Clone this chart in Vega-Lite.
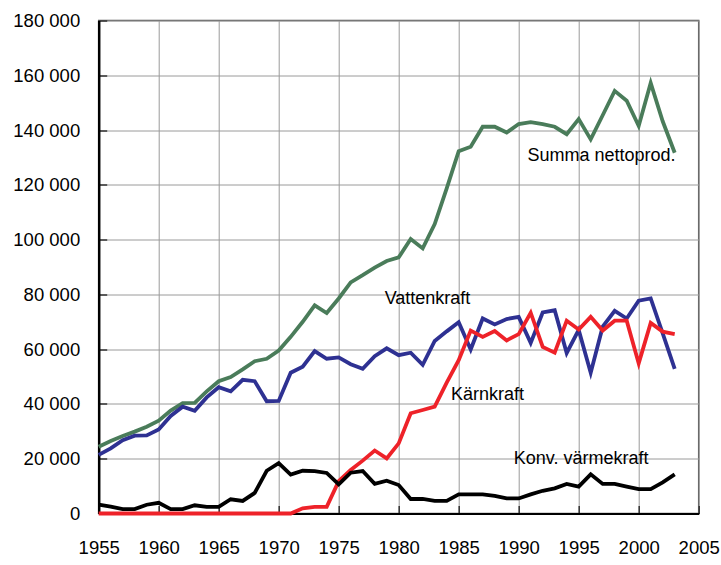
{
  "$schema": "https://vega.github.io/schema/vega-lite/v6.json",
  "width": 600,
  "height": 493,
  "autosize": "none",
  "padding": {"left": 98.7, "top": 20.5, "right": 22.3, "bottom": 51.5},
  "background": "white",
  "config": {
    "view": {"stroke": "#555555", "strokeWidth": 1.5},
    "font": "Liberation Sans, Arial, sans-serif"
  },
  "datasets": {
    "series": [
      {"year": 1955, "series": "Summa nettoprod.", "value": 24400},
      {"year": 1956, "series": "Summa nettoprod.", "value": 26500},
      {"year": 1957, "series": "Summa nettoprod.", "value": 28300},
      {"year": 1958, "series": "Summa nettoprod.", "value": 29900},
      {"year": 1959, "series": "Summa nettoprod.", "value": 31700},
      {"year": 1960, "series": "Summa nettoprod.", "value": 33900},
      {"year": 1961, "series": "Summa nettoprod.", "value": 37600},
      {"year": 1962, "series": "Summa nettoprod.", "value": 40300},
      {"year": 1963, "series": "Summa nettoprod.", "value": 40400},
      {"year": 1964, "series": "Summa nettoprod.", "value": 44600},
      {"year": 1965, "series": "Summa nettoprod.", "value": 48300},
      {"year": 1966, "series": "Summa nettoprod.", "value": 49800},
      {"year": 1967, "series": "Summa nettoprod.", "value": 52600},
      {"year": 1968, "series": "Summa nettoprod.", "value": 55600},
      {"year": 1969, "series": "Summa nettoprod.", "value": 56500},
      {"year": 1970, "series": "Summa nettoprod.", "value": 59500},
      {"year": 1971, "series": "Summa nettoprod.", "value": 64500},
      {"year": 1972, "series": "Summa nettoprod.", "value": 70000},
      {"year": 1973, "series": "Summa nettoprod.", "value": 76000},
      {"year": 1974, "series": "Summa nettoprod.", "value": 73200},
      {"year": 1975, "series": "Summa nettoprod.", "value": 78500},
      {"year": 1976, "series": "Summa nettoprod.", "value": 84400},
      {"year": 1977, "series": "Summa nettoprod.", "value": 87000},
      {"year": 1978, "series": "Summa nettoprod.", "value": 89800},
      {"year": 1979, "series": "Summa nettoprod.", "value": 92200},
      {"year": 1980, "series": "Summa nettoprod.", "value": 93500},
      {"year": 1981, "series": "Summa nettoprod.", "value": 100200},
      {"year": 1982, "series": "Summa nettoprod.", "value": 96800},
      {"year": 1983, "series": "Summa nettoprod.", "value": 105700},
      {"year": 1984, "series": "Summa nettoprod.", "value": 118700},
      {"year": 1985, "series": "Summa nettoprod.", "value": 132300},
      {"year": 1986, "series": "Summa nettoprod.", "value": 133900},
      {"year": 1987, "series": "Summa nettoprod.", "value": 141200},
      {"year": 1988, "series": "Summa nettoprod.", "value": 141200},
      {"year": 1989, "series": "Summa nettoprod.", "value": 139100},
      {"year": 1990, "series": "Summa nettoprod.", "value": 142200},
      {"year": 1991, "series": "Summa nettoprod.", "value": 142900},
      {"year": 1992, "series": "Summa nettoprod.", "value": 142200},
      {"year": 1993, "series": "Summa nettoprod.", "value": 141200},
      {"year": 1994, "series": "Summa nettoprod.", "value": 138500},
      {"year": 1995, "series": "Summa nettoprod.", "value": 144000},
      {"year": 1996, "series": "Summa nettoprod.", "value": 136600},
      {"year": 1997, "series": "Summa nettoprod.", "value": 145400},
      {"year": 1998, "series": "Summa nettoprod.", "value": 154300},
      {"year": 1999, "series": "Summa nettoprod.", "value": 150700},
      {"year": 2000, "series": "Summa nettoprod.", "value": 141500},
      {"year": 2001, "series": "Summa nettoprod.", "value": 157200},
      {"year": 2002, "series": "Summa nettoprod.", "value": 143200},
      {"year": 2003, "series": "Summa nettoprod.", "value": 131700},
      {"year": 1955, "series": "Vattenkraft", "value": 21400},
      {"year": 1956, "series": "Vattenkraft", "value": 23800},
      {"year": 1957, "series": "Vattenkraft", "value": 26800},
      {"year": 1958, "series": "Vattenkraft", "value": 28400},
      {"year": 1959, "series": "Vattenkraft", "value": 28500},
      {"year": 1960, "series": "Vattenkraft", "value": 30700},
      {"year": 1961, "series": "Vattenkraft", "value": 35600},
      {"year": 1962, "series": "Vattenkraft", "value": 39000},
      {"year": 1963, "series": "Vattenkraft", "value": 37500},
      {"year": 1964, "series": "Vattenkraft", "value": 42400},
      {"year": 1965, "series": "Vattenkraft", "value": 46100},
      {"year": 1966, "series": "Vattenkraft", "value": 44600},
      {"year": 1967, "series": "Vattenkraft", "value": 48800},
      {"year": 1968, "series": "Vattenkraft", "value": 48300},
      {"year": 1969, "series": "Vattenkraft", "value": 41000},
      {"year": 1970, "series": "Vattenkraft", "value": 41100},
      {"year": 1971, "series": "Vattenkraft", "value": 51400},
      {"year": 1972, "series": "Vattenkraft", "value": 53600},
      {"year": 1973, "series": "Vattenkraft", "value": 59300},
      {"year": 1974, "series": "Vattenkraft", "value": 56500},
      {"year": 1975, "series": "Vattenkraft", "value": 57000},
      {"year": 1976, "series": "Vattenkraft", "value": 54500},
      {"year": 1977, "series": "Vattenkraft", "value": 52800},
      {"year": 1978, "series": "Vattenkraft", "value": 57400},
      {"year": 1979, "series": "Vattenkraft", "value": 60300},
      {"year": 1980, "series": "Vattenkraft", "value": 57800},
      {"year": 1981, "series": "Vattenkraft", "value": 58700},
      {"year": 1982, "series": "Vattenkraft", "value": 54300},
      {"year": 1983, "series": "Vattenkraft", "value": 63000},
      {"year": 1984, "series": "Vattenkraft", "value": 66500},
      {"year": 1985, "series": "Vattenkraft", "value": 69800},
      {"year": 1986, "series": "Vattenkraft", "value": 59900},
      {"year": 1987, "series": "Vattenkraft", "value": 71200},
      {"year": 1988, "series": "Vattenkraft", "value": 69000},
      {"year": 1989, "series": "Vattenkraft", "value": 71000},
      {"year": 1990, "series": "Vattenkraft", "value": 71800},
      {"year": 1991, "series": "Vattenkraft", "value": 62300},
      {"year": 1992, "series": "Vattenkraft", "value": 73400},
      {"year": 1993, "series": "Vattenkraft", "value": 74200},
      {"year": 1994, "series": "Vattenkraft", "value": 58600},
      {"year": 1995, "series": "Vattenkraft", "value": 67000},
      {"year": 1996, "series": "Vattenkraft", "value": 51400},
      {"year": 1997, "series": "Vattenkraft", "value": 68200},
      {"year": 1998, "series": "Vattenkraft", "value": 74000},
      {"year": 1999, "series": "Vattenkraft", "value": 71200},
      {"year": 2000, "series": "Vattenkraft", "value": 77700},
      {"year": 2001, "series": "Vattenkraft", "value": 78500},
      {"year": 2002, "series": "Vattenkraft", "value": 65800},
      {"year": 2003, "series": "Vattenkraft", "value": 52800},
      {"year": 1955, "series": "Kärnkraft", "value": 0},
      {"year": 1956, "series": "Kärnkraft", "value": 0},
      {"year": 1957, "series": "Kärnkraft", "value": 0},
      {"year": 1958, "series": "Kärnkraft", "value": 0},
      {"year": 1959, "series": "Kärnkraft", "value": 0},
      {"year": 1960, "series": "Kärnkraft", "value": 0},
      {"year": 1961, "series": "Kärnkraft", "value": 0},
      {"year": 1962, "series": "Kärnkraft", "value": 0},
      {"year": 1963, "series": "Kärnkraft", "value": 0},
      {"year": 1964, "series": "Kärnkraft", "value": 0},
      {"year": 1965, "series": "Kärnkraft", "value": 0},
      {"year": 1966, "series": "Kärnkraft", "value": 0},
      {"year": 1967, "series": "Kärnkraft", "value": 0},
      {"year": 1968, "series": "Kärnkraft", "value": 0},
      {"year": 1969, "series": "Kärnkraft", "value": 0},
      {"year": 1970, "series": "Kärnkraft", "value": 0},
      {"year": 1971, "series": "Kärnkraft", "value": 0},
      {"year": 1972, "series": "Kärnkraft", "value": 1900},
      {"year": 1973, "series": "Kärnkraft", "value": 2400},
      {"year": 1974, "series": "Kärnkraft", "value": 2400},
      {"year": 1975, "series": "Kärnkraft", "value": 11800},
      {"year": 1976, "series": "Kärnkraft", "value": 15900},
      {"year": 1977, "series": "Kärnkraft", "value": 19300},
      {"year": 1978, "series": "Kärnkraft", "value": 23000},
      {"year": 1979, "series": "Kärnkraft", "value": 20100},
      {"year": 1980, "series": "Kärnkraft", "value": 25600},
      {"year": 1981, "series": "Kärnkraft", "value": 36600},
      {"year": 1982, "series": "Kärnkraft", "value": 37800},
      {"year": 1983, "series": "Kärnkraft", "value": 39000},
      {"year": 1984, "series": "Kärnkraft", "value": 47800},
      {"year": 1985, "series": "Kärnkraft", "value": 56000},
      {"year": 1986, "series": "Kärnkraft", "value": 66800},
      {"year": 1987, "series": "Kärnkraft", "value": 64500},
      {"year": 1988, "series": "Kärnkraft", "value": 66600},
      {"year": 1989, "series": "Kärnkraft", "value": 63200},
      {"year": 1990, "series": "Kärnkraft", "value": 65500},
      {"year": 1991, "series": "Kärnkraft", "value": 73300},
      {"year": 1992, "series": "Kärnkraft", "value": 60800},
      {"year": 1993, "series": "Kärnkraft", "value": 58700},
      {"year": 1994, "series": "Kärnkraft", "value": 70400},
      {"year": 1995, "series": "Kärnkraft", "value": 67200},
      {"year": 1996, "series": "Kärnkraft", "value": 71800},
      {"year": 1997, "series": "Kärnkraft", "value": 66800},
      {"year": 1998, "series": "Kärnkraft", "value": 70400},
      {"year": 1999, "series": "Kärnkraft", "value": 70400},
      {"year": 2000, "series": "Kärnkraft", "value": 54800},
      {"year": 2001, "series": "Kärnkraft", "value": 69600},
      {"year": 2002, "series": "Kärnkraft", "value": 66400},
      {"year": 2003, "series": "Kärnkraft", "value": 65500},
      {"year": 1955, "series": "Konv. värmekraft", "value": 3200},
      {"year": 1956, "series": "Konv. värmekraft", "value": 2500},
      {"year": 1957, "series": "Konv. värmekraft", "value": 1600},
      {"year": 1958, "series": "Konv. värmekraft", "value": 1600},
      {"year": 1959, "series": "Konv. värmekraft", "value": 3200},
      {"year": 1960, "series": "Konv. värmekraft", "value": 3900},
      {"year": 1961, "series": "Konv. värmekraft", "value": 1600},
      {"year": 1962, "series": "Konv. värmekraft", "value": 1600},
      {"year": 1963, "series": "Konv. värmekraft", "value": 3000},
      {"year": 1964, "series": "Konv. värmekraft", "value": 2400},
      {"year": 1965, "series": "Konv. värmekraft", "value": 2400},
      {"year": 1966, "series": "Konv. värmekraft", "value": 5200},
      {"year": 1967, "series": "Konv. värmekraft", "value": 4600},
      {"year": 1968, "series": "Konv. värmekraft", "value": 7500},
      {"year": 1969, "series": "Konv. värmekraft", "value": 15600},
      {"year": 1970, "series": "Konv. värmekraft", "value": 18400},
      {"year": 1971, "series": "Konv. värmekraft", "value": 14200},
      {"year": 1972, "series": "Konv. värmekraft", "value": 15600},
      {"year": 1973, "series": "Konv. värmekraft", "value": 15500},
      {"year": 1974, "series": "Konv. värmekraft", "value": 14800},
      {"year": 1975, "series": "Konv. värmekraft", "value": 10600},
      {"year": 1976, "series": "Konv. värmekraft", "value": 14900},
      {"year": 1977, "series": "Konv. värmekraft", "value": 15500},
      {"year": 1978, "series": "Konv. värmekraft", "value": 10800},
      {"year": 1979, "series": "Konv. värmekraft", "value": 12000},
      {"year": 1980, "series": "Konv. värmekraft", "value": 10400},
      {"year": 1981, "series": "Konv. värmekraft", "value": 5300},
      {"year": 1982, "series": "Konv. värmekraft", "value": 5300},
      {"year": 1983, "series": "Konv. värmekraft", "value": 4600},
      {"year": 1984, "series": "Konv. värmekraft", "value": 4600},
      {"year": 1985, "series": "Konv. värmekraft", "value": 7000},
      {"year": 1986, "series": "Konv. värmekraft", "value": 7000},
      {"year": 1987, "series": "Konv. värmekraft", "value": 7000},
      {"year": 1988, "series": "Konv. värmekraft", "value": 6400},
      {"year": 1989, "series": "Konv. värmekraft", "value": 5500},
      {"year": 1990, "series": "Konv. värmekraft", "value": 5500},
      {"year": 1991, "series": "Konv. värmekraft", "value": 7000},
      {"year": 1992, "series": "Konv. värmekraft", "value": 8300},
      {"year": 1993, "series": "Konv. värmekraft", "value": 9200},
      {"year": 1994, "series": "Konv. värmekraft", "value": 10800},
      {"year": 1995, "series": "Konv. värmekraft", "value": 9800},
      {"year": 1996, "series": "Konv. värmekraft", "value": 14300},
      {"year": 1997, "series": "Konv. värmekraft", "value": 10800},
      {"year": 1998, "series": "Konv. värmekraft", "value": 10800},
      {"year": 1999, "series": "Konv. värmekraft", "value": 9800},
      {"year": 2000, "series": "Konv. värmekraft", "value": 8900},
      {"year": 2001, "series": "Konv. värmekraft", "value": 8900},
      {"year": 2002, "series": "Konv. värmekraft", "value": 11400},
      {"year": 2003, "series": "Konv. värmekraft", "value": 14300}
    ],
    "labels": [
      {"label": "Summa nettoprod.", "year": 1996.9, "value": 130500},
      {"label": "Vattenkraft", "year": 1982.4, "value": 78300},
      {"label": "Kärnkraft", "year": 1987.4, "value": 43200},
      {"label": "Konv. värmekraft", "year": 1995.2, "value": 19900}
    ]
  },
  "layer": [
    {
      "data": {"name": "series"},
      "mark": {"type": "line", "strokeWidth": 3.8, "clip": false},
      "encoding": {
        "x": {
          "field": "year", "type": "quantitative",
          "scale": {"domain": [1955, 2005], "nice": false, "zero": false},
          "axis": {
            "title": null,
            "values": [1955, 1960, 1965, 1970, 1975, 1980, 1985, 1990, 1995, 2000, 2005],
            "format": "d",
            "grid": true, "gridColor": "#9a9a9a", "gridWidth": 1, "gridOpacity": 1,
            "domainColor": "#000000", "domainWidth": 2,
            "tickColor": "#333333", "tickWidth": 1.5, "tickSize": -8,
            "labelPadding": 33, "labelFontSize": 18.5, "labelColor": "#000000",
            "labelFont": "Liberation Sans, Arial, sans-serif",
            "labelOverlap": false, "labelFlush": false
          }
        },
        "y": {
          "field": "value", "type": "quantitative",
          "scale": {"domain": [0, 180000], "nice": false},
          "axis": {
            "title": null,
            "values": [0, 20000, 40000, 60000, 80000, 100000, 120000, 140000, 160000, 180000],
            "labelExpr": "replace(format(datum.value, ','), ',', ' ')",
            "grid": true, "gridColor": "#9a9a9a", "gridWidth": 1, "gridOpacity": 1,
            "domainColor": "#000000", "domainWidth": 2.5,
            "tickColor": "#333333", "tickWidth": 1.5, "tickSize": -8,
            "labelPadding": 27, "labelFontSize": 18.5, "labelColor": "#000000",
            "labelFont": "Liberation Sans, Arial, sans-serif",
            "labelOverlap": false, "labelFlush": false
          }
        },
        "color": {
          "field": "series", "type": "nominal",
          "scale": {
            "domain": ["Summa nettoprod.", "Vattenkraft", "Kärnkraft", "Konv. värmekraft"],
            "range": ["#4a7c5a", "#2e3192", "#ee2229", "#000000"]
          },
          "legend": null
        }
      }
    },
    {
      "data": {"name": "labels"},
      "mark": {"type": "text", "fontSize": 18, "align": "center", "baseline": "middle", "color": "#000000", "font": "Liberation Sans, Arial, sans-serif"},
      "encoding": {
        "x": {"field": "year", "type": "quantitative"},
        "y": {"field": "value", "type": "quantitative"},
        "text": {"field": "label"}
      }
    }
  ]
}
